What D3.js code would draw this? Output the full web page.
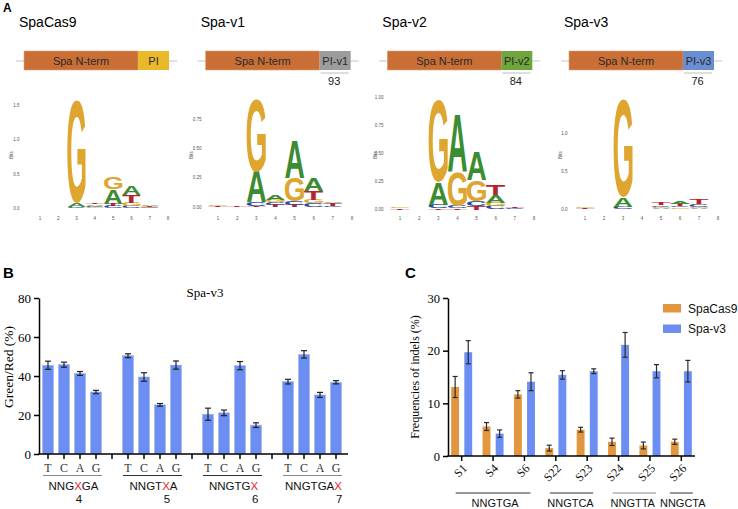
<!DOCTYPE html>
<html>
<head>
<meta charset="utf-8">
<title>Spa-v3</title>
<style>
  body { margin: 0; background: #fff; }
  svg text { font-family: "Liberation Sans", Arial, sans-serif; }
  .serif text, text.serif { font-family: "Liberation Serif", "Times New Roman", serif; }
</style>
</head>
<body>
<svg width="738" height="509"></svg>
<script src="https://d3js.org/d3.v7.min.js"></script>
<script>

// ---------- data ----------
var variants = ["SpaCas9", "Spa-v1", "Spa-v2", "Spa-v3"];
var piNames = ["PI", "PI-v1", "PI-v2", "PI-v3"];
var piSizes = ["", "93", "84", "76"];

// sequence logos, columns 1..8, letters bottom -> top with height in bits
var logoCas9 = [
    [], [],
    [["C", 0.02], ["A", 0.06], ["G", 1.49]],
    [["G", 0.02], ["C", 0.02], ["A", 0.02], ["T", 0.02]],
    [["C", 0.03], ["T", 0.04], ["A", 0.21], ["G", 0.17]],
    [["C", 0.03], ["G", 0.05], ["T", 0.12], ["A", 0.13]],
    [["C", 0.01], ["G", 0.01], ["T", 0.02], ["A", 0.02]],
    []
];
var logoV1 = [
    [["T", 0.01], ["G", 0.01]],
    [["T", 0.01]],
    [["T", 0.01], ["C", 0.03], ["A", 0.26], ["G", 0.62]],
    [["T", 0.02], ["C", 0.02], ["G", 0.02], ["A", 0.04]],
    [["T", 0.02], ["C", 0.03], ["G", 0.2], ["A", 0.32]],
    [["C", 0.03], ["G", 0.03], ["T", 0.08], ["A", 0.11]],
    [["C", 0.01], ["T", 0.02], ["A", 0.01]],
    []
];
var logoV2 = [
    [["T", 0.01], ["G", 0.01]],
    [],
    [["T", 0.01], ["C", 0.03], ["A", 0.2], ["G", 0.73]],
    [["T", 0.01], ["C", 0.02], ["G", 0.31], ["A", 0.51]],
    [["T", 0.03], ["C", 0.04], ["G", 0.19], ["A", 0.25]],
    [["C", 0.03], ["G", 0.03], ["A", 0.07], ["T", 0.09]],
    [["C", 0.01], ["T", 0.01]],
    []
];
var logoV3 = [
    [["T", 0.01], ["G", 0.01]],
    [],
    [["C", 0.03], ["A", 0.12], ["G", 1.28]],
    [],
    [["A", 0.01], ["G", 0.02], ["C", 0.02], ["T", 0.03]],
    [["G", 0.02], ["C", 0.02], ["T", 0.03], ["A", 0.04]],
    [["A", 0.01], ["G", 0.02], ["C", 0.03], ["T", 0.06]],
    []
];
var logos = [logoCas9, logoV1, logoV2, logoV3];
var logoTicks = [[0, 0.5, 1, 1.5], [0, 0.25, 0.5, 0.75], [0, 0.25, 0.5, 0.75, 1], [0, 0.5, 1]];
var logoTickFmt = [".1f", ".2f", ".2f", ".1f"];
var logoCols = [1, 2, 3, 4, 5, 6, 7, 8];

// panel B
var bBases = ["T", "C", "A", "G"];
var bPositions = ["4", "5", "6", "7"];
var bMotifs = [["NNG", "X", "GA"], ["NNGT", "X", "A"], ["NNGTG", "X", ""], ["NNGTGA", "X", ""]];
var bMeans = [
    [45.5, 45.8, 41.3, 31.8],
    [50.4, 39.5, 25.2, 45.6],
    [20.4, 21.1, 45.3, 14.8],
    [37.1, 51.1, 30.3, 36.8]
];
var bErrs = [
    [2.1, 1.3, 1.0, 0.85],
    [1.0, 2.2, 0.7, 2.1],
    [3.1, 1.45, 2.1, 1.2],
    [1.2, 1.9, 1.3, 0.85]
];
var bTicks = [0, 20, 40, 60, 80];

// panel C
var cSites = ["S1", "S4", "S6", "S22", "S23", "S24", "S25", "S26"];
var cSeries = ["SpaCas9", "Spa-v3"];
var cCas9 = [13.1, 5.6, 11.7, 1.5, 5.0, 2.7, 2.0, 2.7];
var cCas9Err = [2.0, 0.75, 0.7, 0.55, 0.45, 0.7, 0.65, 0.5];
var cV3 = [19.7, 4.25, 14.1, 15.4, 16.1, 21.1, 16.1, 16.1];
var cV3Err = [2.2, 0.7, 1.7, 0.8, 0.45, 2.35, 1.25, 2.05];
var cGroups = [["NNGTGA", "S1", "S6"], ["NNGTCA", "S22", "S23"], ["NNGTTA", "S24", "S25"], ["NNGCTA", "S26", "S26"]];
var cTicks = [0, 10, 20, 30];

// ---------- styles ----------
var letterColor = { G: "#DEA62F", A: "#3C8C33", T: "#B3252F", C: "#2B4C9B" };
var ntermColor = "#C96E35";
var piColors = ["#E9B929", "#9C9C9C", "#70A43C", "#6A8ED1"];
var blue = "#6C8EF2", orange = "#E2963E";

var svg = d3.select("svg");

// ---------- panel A ----------
svg.append("text").attr("x", 3).attr("y", 12).attr("font-size", 12)
    .attr("font-weight", "bold").text("A");

var offX = d3.scaleLinear().domain([0, 3]).range([0, 545]);

variants.forEach(function(name, i) {
    var g = svg.append("g").attr("transform", "translate(" + offX(i) + ",0)");
    g.append("text").attr("x", 19).attr("y", 27).attr("font-size", 14).text(name);
    g.append("line").attr("x1", 16).attr("x2", 177).attr("y1", 61).attr("y2", 61)
        .attr("stroke", "#c4c4c4").attr("stroke-width", 1);
    g.append("rect").attr("x", 24).attr("y", 51).attr("width", 114).attr("height", 19)
        .attr("fill", ntermColor).attr("stroke", "#dca27d").attr("stroke-width", 0.6);
    g.append("rect").attr("x", 138).attr("y", 51).attr("width", 31).attr("height", 19)
        .attr("fill", piColors[i]);
    g.append("text").attr("x", 81).attr("y", 65).attr("font-size", 11)
        .attr("text-anchor", "middle").attr("fill", "#2a2a2a").text("Spa N-term");
    g.append("text").attr("x", 153.5).attr("y", 65).attr("font-size", 11)
        .attr("text-anchor", "middle").attr("fill", "#2a2a2a").text(piNames[i]);
    if (piSizes[i]) {
        g.append("line").attr("x1", 139).attr("x2", 167).attr("y1", 73).attr("y2", 73)
            .attr("stroke", "#bdbdbd").attr("stroke-width", 1);
        g.append("text").attr("x", 152.5).attr("y", 85).attr("font-size", 11)
            .attr("text-anchor", "middle").attr("fill", "#222").text(piSizes[i]);
    }
});

// sequence logos
var logoLayout = [
    { x1: 40, x8: 168, y0: 208.5, yT: 105, labX: 19.5, bitsX: 13 },
    { x1: 218, x8: 352, y0: 207, yT: 119, labX: 201.5, bitsX: 193 },
    { x1: 400, x8: 534, y0: 209.5, yT: 97.5, labX: 383.5, bitsX: 377 },
    { x1: 585, x8: 718, y0: 209, yT: 133, labX: 567.5, bitsX: 562 }
];

var ctx = document.createElement("canvas").getContext("2d");
ctx.font = "bold 100px 'Liberation Sans'";
var glyph = {};
["A", "C", "G", "T"].forEach(function(ch) {
    var m = ctx.measureText(ch);
    glyph[ch] = { l: m.actualBoundingBoxLeft, r: m.actualBoundingBoxRight,
                  a: m.actualBoundingBoxAscent, d: m.actualBoundingBoxDescent };
});

logos.forEach(function(cols, i) {
    var L = logoLayout[i];
    var tMax = d3.max(logoTicks[i]);
    var y = d3.scaleLinear().domain([0, tMax]).range([L.y0, L.yT]);
    var x = d3.scaleLinear().domain([1, 8]).range([L.x1, L.x8]);
    var w = (L.x8 - L.x1) / 7;
    var g = svg.append("g");

    g.selectAll(".yt").data(logoTicks[i]).enter().append("text")
        .attr("x", L.labX).attr("y", function(d) { return y(d) + 1.6; })
        .attr("text-anchor", "end").attr("font-size", 4.5).attr("fill", "#555")
        .text(function(d) { return d3.format(logoTickFmt[i])(d); });
    g.append("text").attr("transform", "translate(" + L.bitsX + ",155) rotate(-90)")
        .attr("text-anchor", "middle").attr("font-size", 4.5).attr("fill", "#555").text("Bits");
    g.selectAll(".xt").data(logoCols).enter().append("text")
        .attr("x", function(d) { return x(d); }).attr("y", 219.5)
        .attr("text-anchor", "middle").attr("font-size", 4.5).attr("fill", "#555")
        .text(function(d) { return d; });

    cols.forEach(function(stack, c) {
        var base = 0;
        stack.forEach(function(p) {
            var ch = p[0], h = p[1];
            var top = y(base + h), bot = y(base);
            var gb = glyph[ch];
            var sx = w / (gb.l + gb.r), sy = (bot - top) / (gb.a + gb.d);
            g.append("text")
                .attr("transform", "translate(" + (x(c + 1) - w / 2) + "," + top + ") scale(" + sx + "," + sy +
                      ") translate(" + gb.l + "," + gb.a + ")")
                .attr("font-size", 100).attr("font-weight", "bold")
                .attr("fill", letterColor[ch]).text(ch);
            base += h;
        });
    });
});

// ---------- panel B ----------
svg.append("text").attr("x", 3).attr("y", 278).attr("font-size", 15)
    .attr("font-weight", "bold").text("B");

var slots = [];
bPositions.forEach(function(p, gi) {
    bBases.forEach(function(b) { slots.push(p + b); });
    if (gi < bPositions.length - 1) slots.push("gap" + p);
});
var xB = d3.scaleBand().domain(slots).range([40, 344]).paddingInner(0.31).paddingOuter(0.155);
var yB = d3.scaleLinear().domain([0, 80]).range([454, 298]);
var cx = function(k) { return xB(k) + xB.bandwidth() / 2; };

var barsB = [];
bPositions.forEach(function(p, gi) {
    bBases.forEach(function(b, bi) {
        barsB.push({ key: p + b, v: bMeans[gi][bi], e: bErrs[gi][bi] });
    });
});

var gB = svg.append("g");
gB.selectAll("rect").data(barsB).enter().append("rect")
    .attr("x", function(d) { return xB(d.key); })
    .attr("width", xB.bandwidth())
    .attr("y", function(d) { return yB(d.v); })
    .attr("height", function(d) { return yB(0) - yB(d.v); })
    .attr("fill", blue).attr("stroke", "#9fb5f6").attr("stroke-width", 0.6);

var errB = gB.selectAll(".err").data(barsB).enter().append("g").attr("stroke", "#222").attr("stroke-width", 1.2);
errB.append("line").attr("x1", function(d) { return cx(d.key); }).attr("x2", function(d) { return cx(d.key); })
    .attr("y1", function(d) { return yB(d.v + d.e); }).attr("y2", function(d) { return yB(d.v - d.e); });
errB.append("line").attr("x1", function(d) { return cx(d.key) - 3; }).attr("x2", function(d) { return cx(d.key) + 3; })
    .attr("y1", function(d) { return yB(d.v + d.e); }).attr("y2", function(d) { return yB(d.v + d.e); });
errB.append("line").attr("x1", function(d) { return cx(d.key) - 3; }).attr("x2", function(d) { return cx(d.key) + 3; })
    .attr("y1", function(d) { return yB(d.v - d.e); }).attr("y2", function(d) { return yB(d.v - d.e); });

var yAxisB = svg.append("g").attr("class", "serif").attr("transform", "translate(39,0)")
    .call(d3.axisLeft(yB).tickValues(bTicks).tickSize(5).tickSizeOuter(0).tickPadding(3));
yAxisB.attr("font-family", null).attr("font-size", 13);
yAxisB.selectAll("path, line").attr("stroke", "#000").attr("stroke-width", 1.5);
yAxisB.selectAll("text").attr("fill", "#000");

var xAxisB = svg.append("g").attr("transform", "translate(0,454)")
    .call(d3.axisBottom(xB).tickSize(5).tickSizeOuter(0).tickFormat(""));
xAxisB.select(".domain").remove();
xAxisB.selectAll("line").attr("stroke", "#000").attr("stroke-width", 1.5);
svg.append("line").attr("x1", 38.25).attr("x2", 348).attr("y1", 454).attr("y2", 454)
    .attr("stroke", "#000").attr("stroke-width", 1.5);

svg.append("text").attr("class", "serif").attr("x", 205).attr("y", 297)
    .attr("text-anchor", "middle").attr("font-size", 13).text("Spa-v3");
svg.append("text").attr("class", "serif").attr("transform", "translate(12.5,367) rotate(-90)")
    .attr("text-anchor", "middle").attr("font-size", 13.5).text("Green/Red (%)");

bPositions.forEach(function(p, gi) {
    bBases.forEach(function(b) {
        svg.append("text").attr("class", "serif").attr("x", cx(p + b)).attr("y", 472)
            .attr("text-anchor", "middle").attr("font-size", 12).attr("fill", "#333").text(b);
    });
    var xa = cx(p + "T") - 5, xz = cx(p + "G") + 6;
    svg.append("line").attr("x1", xa).attr("x2", xz).attr("y1", 475.5).attr("y2", 475.5)
        .attr("stroke", gi === 0 || gi === 3 ? "#8a8a8a" : "#333").attr("stroke-width", 1);
    var t = svg.append("text").attr("x", (xa + xz) / 2 + 1).attr("y", 490)
        .attr("text-anchor", "middle").attr("font-size", 11.5).attr("fill", "#111");
    t.append("tspan").text(bMotifs[gi][0]);
    t.append("tspan").attr("fill", "#E3262B").text(bMotifs[gi][1]);
    t.append("tspan").text(bMotifs[gi][2]);
    var box = t.node().getExtentOfChar(bMotifs[gi][0].length);
    svg.append("text").attr("x", box.x + box.width / 2 + 1).attr("y", 503)
        .attr("text-anchor", "middle").attr("font-size", 11.5).attr("fill", "#111").text(p);
});

// ---------- panel C ----------
svg.append("text").attr("x", 405).attr("y", 278).attr("font-size", 15)
    .attr("font-weight", "bold").text("C");

var xC = d3.scaleBand().domain(cSites).range([446, 697]);
var xC1 = d3.scaleBand().domain(cSeries).range([-10.5, 10.5]).paddingInner(0.4);
var yC = d3.scaleLinear().domain([0, 30]).range([456, 298]);
var ccx = function(s) { return xC(s) + xC.bandwidth() / 2; };

var barsC = [];
cSites.forEach(function(s, i) {
    barsC.push({ site: s, ser: "SpaCas9", v: cCas9[i], e: cCas9Err[i] });
    barsC.push({ site: s, ser: "Spa-v3", v: cV3[i], e: cV3Err[i] });
});
var colC = d3.scaleOrdinal().domain(cSeries).range([orange, blue]);
var bx = function(d) { return ccx(d.site) + xC1(d.ser); };

var gC = svg.append("g");
gC.selectAll("rect").data(barsC).enter().append("rect")
    .attr("x", bx).attr("width", xC1.bandwidth())
    .attr("y", function(d) { return yC(d.v); })
    .attr("height", function(d) { return yC(0) - yC(d.v); })
    .attr("fill", function(d) { return colC(d.ser); });

var errC = gC.selectAll(".err").data(barsC).enter().append("g").attr("stroke", "#2a2a2a").attr("stroke-width", 1.2);
var mid = function(d) { return bx(d) + xC1.bandwidth() / 2; };
errC.append("line").attr("x1", mid).attr("x2", mid)
    .attr("y1", function(d) { return yC(d.v + d.e); }).attr("y2", function(d) { return yC(d.v - d.e); });
errC.append("line").attr("x1", function(d) { return mid(d) - 2.5; }).attr("x2", function(d) { return mid(d) + 2.5; })
    .attr("y1", function(d) { return yC(d.v + d.e); }).attr("y2", function(d) { return yC(d.v + d.e); });
errC.append("line").attr("x1", function(d) { return mid(d) - 2.5; }).attr("x2", function(d) { return mid(d) + 2.5; })
    .attr("y1", function(d) { return yC(d.v - d.e); }).attr("y2", function(d) { return yC(d.v - d.e); });

var yAxisC = svg.append("g").attr("class", "serif").attr("transform", "translate(448,0)")
    .call(d3.axisLeft(yC).tickValues(cTicks).tickSize(5).tickSizeOuter(0).tickPadding(3));
yAxisC.attr("font-family", null).attr("font-size", 12.5);
yAxisC.selectAll("path, line").attr("stroke", "#000").attr("stroke-width", 1.5);
yAxisC.selectAll("text").attr("fill", "#000");

var xAxisC = svg.append("g").attr("transform", "translate(0,456)")
    .call(d3.axisBottom(xC).tickSize(5).tickSizeOuter(0).tickFormat(""));
xAxisC.select(".domain").remove();
xAxisC.selectAll("line").attr("stroke", "#000").attr("stroke-width", 1.5);
svg.append("line").attr("x1", 447.25).attr("x2", 695).attr("y1", 456).attr("y2", 456)
    .attr("stroke", "#000").attr("stroke-width", 1.5);

svg.selectAll(".cxl").data(cSites).enter().append("text").attr("class", "serif")
    .attr("transform", function(d) { return "translate(" + (ccx(d) + 6) + ",469) rotate(-45)"; })
    .attr("text-anchor", "end").attr("font-size", 12).attr("fill", "#111")
    .text(function(d) { return d; });

svg.append("text").attr("class", "serif").attr("transform", "translate(419,377) rotate(-90)")
    .attr("text-anchor", "middle").attr("font-size", 12).text("Frequencies of indels (%)");

var groupShift = [2, -1, -1.5, 1.5];
cGroups.forEach(function(gr, i) {
    var a = ccx(gr[1]), b = ccx(gr[2]);
    var c = (a + b) / 2, half = Math.max((b - a) / 2 + 6, 11.5);
    svg.append("line").attr("x1", c - half).attr("x2", c + half).attr("y1", 493).attr("y2", 493)
        .attr("stroke", i === 2 ? "#8a8a8a" : "#333").attr("stroke-width", 1);
    svg.append("text").attr("x", c + groupShift[i]).attr("y", 507).attr("text-anchor", "middle")
        .attr("font-size", 11).attr("fill", "#111").text(gr[0]);
});

// legend
var leg = svg.append("g").attr("transform", "translate(663,304)");
cSeries.forEach(function(s, i) {
    leg.append("rect").attr("x", 0).attr("y", i * 20.5).attr("width", 18).attr("height", 8.5)
        .attr("fill", colC(s));
    leg.append("text").attr("x", 25).attr("y", i * 20.5 + 8.5).attr("font-size", 12)
        .attr("fill", "#111").text(s);
});

</script>
</body>
</html>
